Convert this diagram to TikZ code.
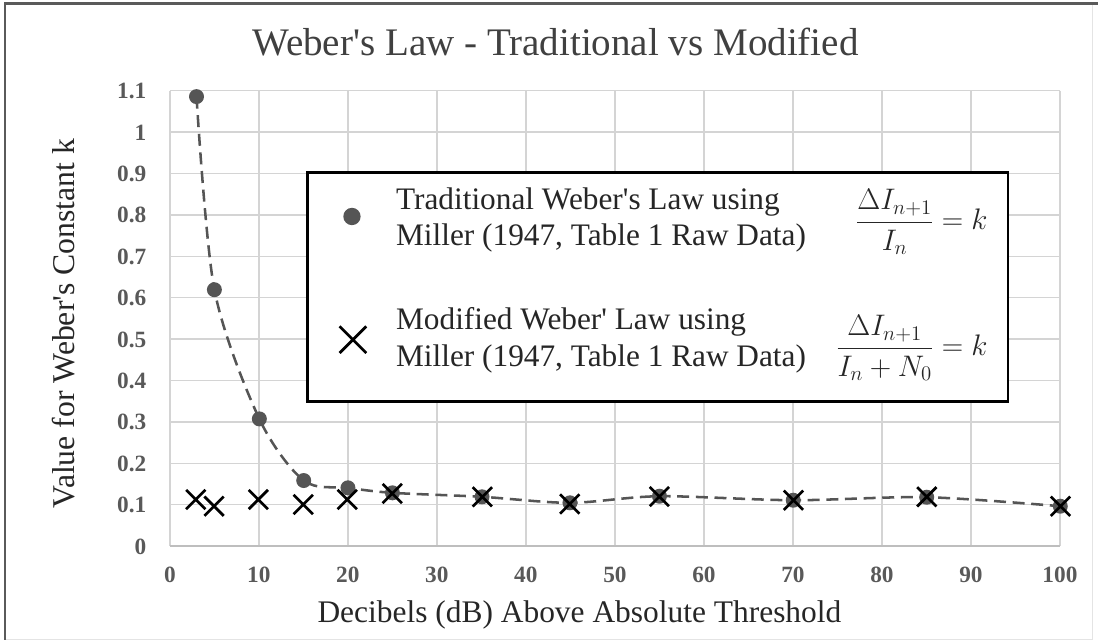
\RequirePackage{fix-cm}
\documentclass[tikz,border=0pt]{standalone}
\usepackage{amsmath}
\usepackage{fontspec}
\setmainfont{Liberation Serif}
\usetikzlibrary{shapes.misc}

\definecolor{gridgray}{RGB}{212,212,212}
\definecolor{axisgray}{RGB}{190,190,190}
\definecolor{dotgray}{RGB}{85,85,85}
\definecolor{tickgray}{RGB}{89,89,89}
\definecolor{titlegray}{RGB}{64,64,64}
\definecolor{labelgray}{RGB}{38,38,38}
\definecolor{framedark}{RGB}{90,90,90}
\definecolor{framelight}{RGB}{228,228,228}

\tikzset{every picture/.style={line width=0.75pt}}
\tikzset{
  gridline/.style={color=gridgray, line width=1.1pt},
  tracedot/.style={circle, fill=dotgray, inner sep=0pt, minimum size=11.25pt},
  modcross/.style={cross out, draw=black, line width=2pt, inner sep=0pt, minimum size=12.5pt},
  ticklabel/.style={inner sep=0.75pt, text=tickgray, font=\fontsize{17.5}{20}\selectfont\bfseries},
  legendtext/.style={anchor=base west, inner sep=0.75pt, text=labelgray, font=\fontsize{23.5}{27}\selectfont},
  lawformula/.style={anchor=base east, inner sep=0.75pt, text=labelgray, font=\fontsize{22.3}{27}\selectfont},
}

\begin{document}
\begin{tikzpicture}[x=0.75pt,y=0.75pt,yscale=-1,xscale=1]
\path (0,0) rectangle (1099,642); %set diagram size 1099 x 642

%Shape: Frame
\draw [color=framelight] (5,3.5) rectangle (1093.5,640.5) ;
\draw [color=framedark, line width=1.6pt] (5,640.5) -- (5,3.5) -- (1099,3.5) ;

%Straight Lines: vertical grid
\draw [gridline] (170,90.75) -- (170,546.7) ;
\draw [gridline] (259.1,90.75) -- (259.1,546.7) ;
\draw [gridline] (348.2,90.75) -- (348.2,546.7) ;
\draw [gridline] (437.3,90.75) -- (437.3,546.7) ;
\draw [gridline] (526.4,90.75) -- (526.4,546.7) ;
\draw [gridline] (615.5,90.75) -- (615.5,546.7) ;
\draw [gridline] (704.6,90.75) -- (704.6,546.7) ;
\draw [gridline] (793.7,90.75) -- (793.7,546.7) ;
\draw [gridline] (882.8,90.75) -- (882.8,546.7) ;
\draw [gridline] (971.9,90.75) -- (971.9,546.7) ;
\draw [gridline] (1061,90.75) -- (1061,546.7) ;
%Straight Lines: horizontal grid
\draw [gridline] (170,505.25) -- (1061,505.25) ;
\draw [gridline] (170,463.8) -- (1061,463.8) ;
\draw [gridline] (170,422.35) -- (1061,422.35) ;
\draw [gridline] (170,380.9) -- (1061,380.9) ;
\draw [gridline] (170,339.45) -- (1061,339.45) ;
\draw [gridline] (170,298) -- (1061,298) ;
\draw [gridline] (170,256.55) -- (1061,256.55) ;
\draw [gridline] (170,215.1) -- (1061,215.1) ;
\draw [gridline] (170,173.65) -- (1061,173.65) ;
\draw [gridline] (170,132.2) -- (1061,132.2) ;
\draw [gridline] (170,90.75) -- (1061,90.75) ;
\draw [gridline, color=axisgray] (170,546.7) -- (1061,546.7) ;

%Shapes: traditional points
\node (d3) [tracedot] at (196.7,96.7) {};
\node (d5) [tracedot] at (214.6,290) {};
\node (d10) [tracedot] at (259.6,419.3) {};
\node (d15) [tracedot] at (304,481) {};
\node (d20) [tracedot] at (348.3,488.3) {};
\node (d25) [tracedot] at (392.8,493.3) {};
\node (d35) [tracedot] at (482.5,497.3) {};
\node (d45) [tracedot] at (570.5,503.3) {};
\node (d55) [tracedot] at (660.1,496.7) {};
\node (d70) [tracedot] at (794,500.7) {};
\node (d85) [tracedot] at (927.6,497.7) {};
\node (d100) [tracedot] at (1061.3,506.7) {};

%Curve Lines: smoothed trend
\draw [color=dotgray, line width=1.9pt, dash pattern=on 9pt off 5pt] plot [smooth, tension=0.5] coordinates {(d3.center) (d5.center) (d10.center) (d15.center) (d20.center) (d25.center) (d35.center) (d45.center) (d55.center) (d70.center) (d85.center) (d100.center)} ;

%Shapes: modified points
\node (c3) [modcross] at (196,500) {};
\node (c5) [modcross] at (214.3,506.7) {};
\node (c10) [modcross] at (258.6,500) {};
\node (c15) [modcross] at (303.5,505) {};
\node (c20) [modcross] at (347.6,500) {};
\node (c25) [modcross] at (392.7,494) {};
\node (c35) [modcross] at (482.8,497.3) {};
\node (c45) [modcross] at (570.3,504.5) {};
\node (c55) [modcross] at (660,497) {};
\node (c70) [modcross] at (794.2,500.7) {};
\node (c85) [modcross] at (927.7,497.3) {};
\node (c100) [modcross] at (1061.5,506.7) {};

%Shape: Legend box
\draw [fill=white, line width=2.2pt] (308,173) rectangle (1009,402) ;
\node (keydot) [tracedot, minimum size=13pt] at (352.3,216.7) {};
\node (keycross) [modcross, minimum size=18pt] at (353.3,340) {};

% Text Node
\draw (395,210) node (trad1) [legendtext] {Traditional Weber\textquotesingle s Law using};
% Text Node
\draw (395,246) node (trad2) [legendtext] {Miller (1947, Table 1 Raw Data)};
% Text Node
\draw (395,330) node (mod1) [legendtext] {Modified Weber\textquotesingle{} Law using};
% Text Node
\draw (395,366.7) node (mod2) [legendtext] {Miller (1947, Table 1 Raw Data)};
% Text Node
\draw (990,230) node (tradeq) [lawformula] {$\dfrac{\Delta I_{n+1}}{I_{n}} =k$};
% Text Node
\draw (990,356) node (modeq) [lawformula] {$\dfrac{\Delta I_{n+1}}{I_{n} +N_{0}} =k$};

% Text Node
\draw (556,56) node (title) [anchor=base, inner sep=0.75pt, text=titlegray, font=\fontsize{29.3}{34}\selectfont] {Weber\textquotesingle s Law - Traditional vs Modified};
% Text Node
\draw (580,622.7) node (xlabel) [anchor=base, inner sep=0.75pt, text=labelgray, font=\fontsize{23.6}{28}\selectfont] {Decibels (dB) Above Absolute Threshold};
% Text Node
\draw (75,324) node (ylabel) [anchor=base, rotate=90, inner sep=0.75pt, text=labelgray, font=\fontsize{23.8}{28}\selectfont] {Value for Weber\textquotesingle s Constant k};

% Text Node: y ticks
\draw (148,554.7) node (y0) [anchor=base east, ticklabel] {0};
\draw (148,513.25) node (y1) [anchor=base east, ticklabel] {0.1};
\draw (148,471.8) node (y2) [anchor=base east, ticklabel] {0.2};
\draw (148,430.35) node (y3) [anchor=base east, ticklabel] {0.3};
\draw (148,388.9) node (y4) [anchor=base east, ticklabel] {0.4};
\draw (148,347.45) node (y5) [anchor=base east, ticklabel] {0.5};
\draw (148,306) node (y6) [anchor=base east, ticklabel] {0.6};
\draw (148,264.55) node (y7) [anchor=base east, ticklabel] {0.7};
\draw (148,223.1) node (y8) [anchor=base east, ticklabel] {0.8};
\draw (148,181.65) node (y9) [anchor=base east, ticklabel] {0.9};
\draw (148,140.2) node (y10) [anchor=base east, ticklabel] {1};
\draw (148,98.75) node (y11) [anchor=base east, ticklabel] {1.1};
% Text Node: x ticks
\draw (170,582.7) node (x0) [anchor=base, ticklabel] {0};
\draw (259.1,582.7) node (x10) [anchor=base, ticklabel] {10};
\draw (348.2,582.7) node (x20) [anchor=base, ticklabel] {20};
\draw (437.3,582.7) node (x30) [anchor=base, ticklabel] {30};
\draw (526.4,582.7) node (x40) [anchor=base, ticklabel] {40};
\draw (615.5,582.7) node (x50) [anchor=base, ticklabel] {50};
\draw (704.6,582.7) node (x60) [anchor=base, ticklabel] {60};
\draw (793.7,582.7) node (x70) [anchor=base, ticklabel] {70};
\draw (882.8,582.7) node (x80) [anchor=base, ticklabel] {80};
\draw (971.9,582.7) node (x90) [anchor=base, ticklabel] {90};
\draw (1061,582.7) node (x100) [anchor=base, ticklabel] {100};

\end{tikzpicture}
\end{document}
